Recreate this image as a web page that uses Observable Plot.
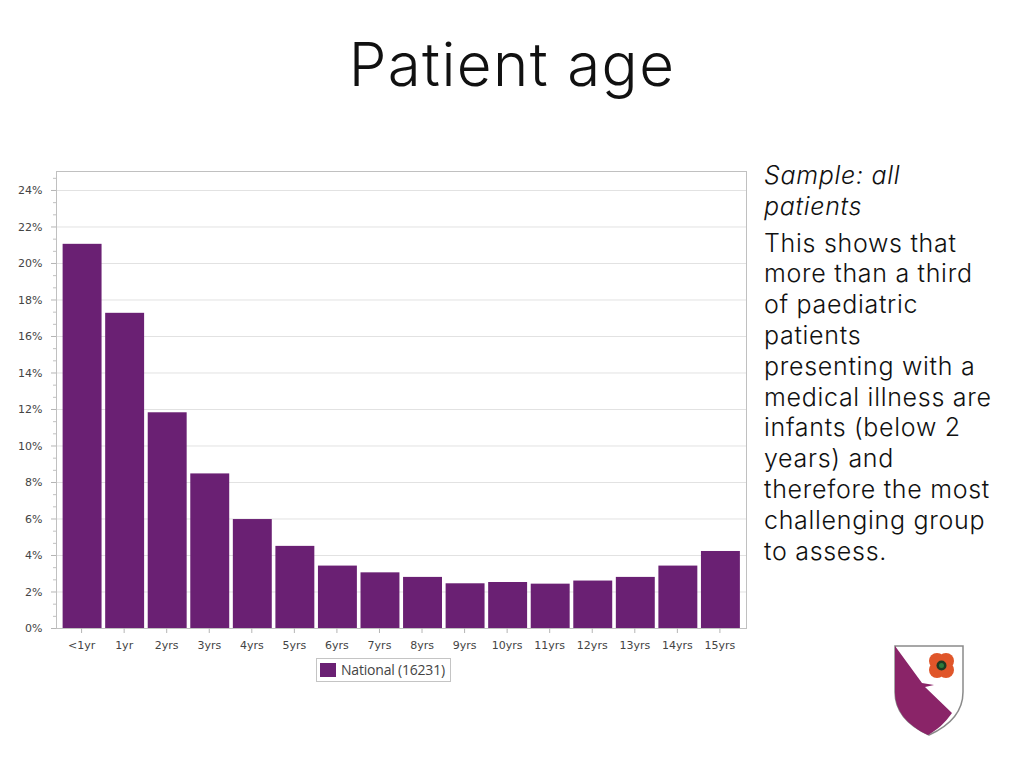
<!DOCTYPE html>
<html><head><meta charset="utf-8">
<script src="https://cdn.jsdelivr.net/npm/d3@7"></script>
<script src="https://cdn.jsdelivr.net/npm/@observablehq/plot@0.6"></script>
<style>
html,body{margin:0;background:#fff;width:1024px;height:768px;overflow:hidden}
#chart{position:absolute;left:0;top:0}
h1{position:absolute;left:0;width:1024px;top:26px;margin:0;text-align:center;font:300 60px/76px Inter,sans-serif;color:#111;letter-spacing:1.4px}
#side{position:absolute;left:764px;top:160px;width:250px;font:300 25px/30.8px Inter,sans-serif;color:#111;letter-spacing:.7px}
#side p{margin:0 0 6px}
#legend{position:absolute;left:316px;top:658px;width:133px;height:22px;border:1px solid #c4c4c4;font:14px/22px "Open Sans",sans-serif;color:#444;background:#fff}
#legend i{position:absolute;left:3px;top:4px;width:16px;height:14px;background:#6a2073}
#legend span{position:absolute;left:24px;top:0;white-space:nowrap;letter-spacing:-.2px}
#logo{position:absolute;left:885px;top:640px}
</style></head><body>
<div id="chart"></div>
<h1>Patient age</h1>
<div id="side"><p><em>Sample: all<br>patients</em></p>This shows that<br>more than a third<br>of paediatric<br>patients<br>presenting with a<br>medical illness are<br>infants (below 2<br>years) and<br>therefore the most<br>challenging group<br>to assess.</div>
<div id="legend"><i></i><span>National (16231)</span></div>
<svg id="logo" width="90" height="100" viewBox="0 0 90 100">
<path d="M10 6H78V52C78 72 64 86 44 95C24 86 10 72 10 52Z" fill="#fff" stroke="#8a8a8a" stroke-width="1.5"/>
<path d="M10 6L37 43L49 45L40 47L67 73C60 83 52 90 43 95C24 86 10 72 10 52Z" fill="#8a2468"/>
<g fill="#e0562a"><circle cx="52" cy="21" r="8"/><circle cx="61" cy="21" r="8"/><circle cx="52" cy="30" r="8"/><circle cx="61" cy="30" r="8"/><circle cx="56.5" cy="25.5" r="10"/></g>
<circle cx="56.5" cy="25.5" r="5" fill="#1b3a22"/>
<circle cx="56.5" cy="25.5" r="2.5" fill="#2d7a3c"/>
</svg>
<script>
const ageLabels = ["<1yr","1yr","2yrs","3yrs","4yrs","5yrs","6yrs","7yrs","8yrs","9yrs","10yrs","11yrs","12yrs","13yrs","14yrs","15yrs"];
const shares = [21.05,17.27,11.82,8.47,5.97,4.5,3.42,3.05,2.8,2.45,2.52,2.43,2.6,2.8,3.42,4.22];
const majorTicks = [0,2,4,6,8,10,12,14,16,18,20,22,24];
const minorTicks = d3.range(0,25.04,2/3).filter(v=>Math.abs(v/2-Math.round(v/2))>0.01);
const rows = ageLabels.map((age,i)=>({age,share:shares[i]}));
const barColor = "#6a2073";
const chart = Plot.plot({
  width:1024,height:768,
  marginLeft:59,marginRight:280.5,marginTop:171,marginBottom:140,
  style:{fontFamily:"'DejaVu Sans',sans-serif",fontSize:"11px",background:"transparent",color:"#444"},
  x:{domain:ageLabels,padding:0.085,align:0.5,round:false,label:null},
  y:{domain:[0,25.04],label:null},
  marks:[
    Plot.ruleY(majorTicks.slice(1),{stroke:"#e2e2e2",strokeOpacity:1,insetLeft:-3,insetRight:-2.5}),
    Plot.frame({stroke:"#c0c0c0",insetLeft:-3,insetRight:-2.5}),
    Plot.barY(rows,{x:"age",y:"share",fill:barColor}),
    Plot.axisY({ticks:minorTicks,tickFormat:()=>"",tickSize:3,dx:-3,stroke:"#c0c0c0",strokeOpacity:1}),
    Plot.axisY({ticks:majorTicks,tickFormat:d=>d+"%",tickSize:5,tickPadding:9,dx:-3,stroke:"#b5b5b5",strokeOpacity:1,fill:"#444",fontSize:11}),
    Plot.axisX({tickSize:5,tickPadding:8,stroke:"#b5b5b5",strokeOpacity:1,fill:"#444",fontSize:11,dx:-1,label:null}),
  ]
});
document.getElementById("chart").appendChild(chart);
</script>
</body></html>
